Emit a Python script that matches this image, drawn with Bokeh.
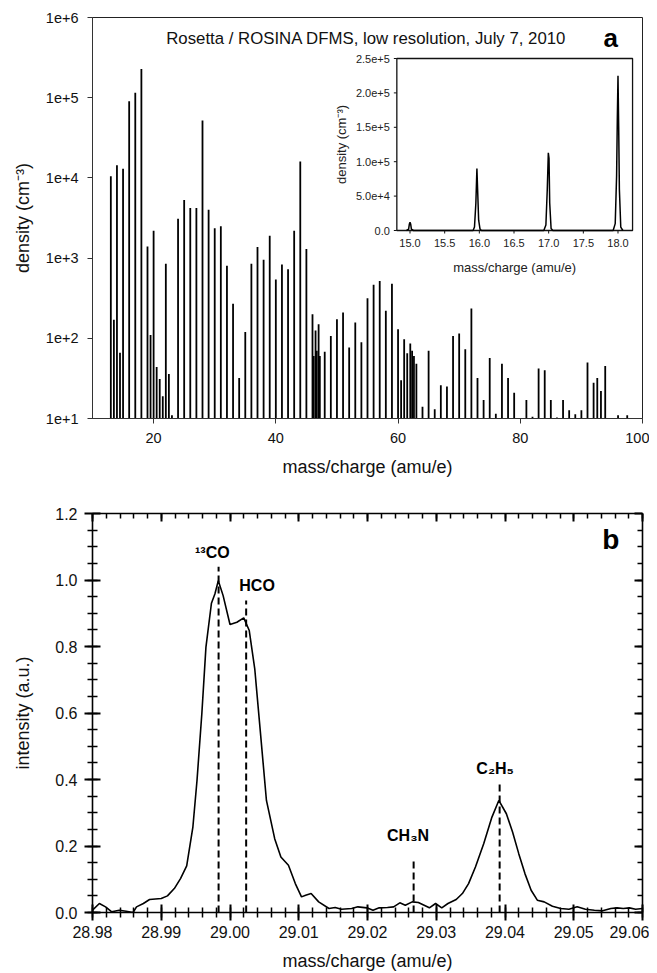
import math
from bokeh.plotting import figure
from bokeh.models import Range1d, FixedTicker, CustomJSTickFormatter, LinearAxis, LinearScale
from bokeh.layouts import column
from bokeh.embed import file_html
from bokeh.resources import INLINE
from bokeh.core.properties import value

FONT = "Liberation Sans"

# ---------------- panel a : low resolution spectrum ----------------
masses = [13, 13.5, 14, 14.5, 15, 16, 17, 18, 19, 19.5, 20, 20.5, 21, 21.5, 22, 22.5, 23,
          24, 25, 26, 27, 28, 29, 30, 31, 32, 33, 34, 35, 36, 37, 38, 39, 40, 41, 42, 43,
          44, 45, 46, 46.2, 46.5, 46.7, 47, 47.2, 48, 49, 50, 51, 52, 53, 54, 55, 56, 57,
          58, 59, 60, 60.5, 61, 61.5, 62, 62.3, 62.6, 63, 64, 65, 66, 67, 68, 69, 70, 71,
          72, 73, 74, 75, 76, 77, 78, 79, 81, 82, 83, 84, 85, 86, 87, 88, 89, 90, 91, 92,
          92.6, 93.2, 93.9, 96, 97.5]
densities = [1.05e4, 170, 1.44e4, 66, 1.3e4, 9.0e4, 1.15e5, 2.28e5, 1400, 110, 2200, 44, 31, 19, 850, 36, 11,
             3100, 5300, 4200, 4200, 5.2e4, 4000, 2350, 2500, 800, 270, 32, 120, 850, 1380, 955, 1900, 540, 830, 725, 2200,
             1.6e4, 1300, 200, 60, 125, 70, 150, 60, 68, 107, 173, 210, 77, 157, 89, 315, 465, 520,
             220, 480, 130, 30, 97, 65, 86, 70, 60, 48, 14, 70, 13, 26, 25, 107, 115, 73,
             235, 32, 17, 57, 11.5, 48, 32, 21, 17, 10.5, 42, 40, 17, 10.3, 17, 12.7, 11.3, 12.7, 50, 28,
             32, 22, 45, 11, 11]
a_x_ticks = [20, 40, 60, 80, 100]
a_x_labels = ["20", "40", "60", "80", "100"]
a_y_ticks = [1e1, 1e2, 1e3, 1e4, 1e5, 1e6]
a_y_labels = ["1e+1", "1e+2", "1e+3", "1e+4", "1e+5", "1e+6"]
a_title = "Rosetta / ROSINA DFMS, low resolution, July 7, 2010"

# inset (linear scale, m/z 15-18)
inset_mass = [14.95, 14.98, 14.99, 15.0, 15.01, 15.02, 15.05,
              15.91, 15.93, 15.95, 15.965, 15.975, 15.99, 16.01, 16.03,
              16.93, 16.96, 16.98, 16.995, 17.005, 17.015, 17.035, 17.06,
              17.93, 17.96, 17.98, 17.99, 18.0, 18.01, 18.02, 18.04, 18.07]
inset_density = [0, 2000, 9000, 12000, 9000, 2000, 0,
                 0, 5000, 40000, 90000, 60000, 15000, 2000, 0,
                 0, 8000, 60000, 113000, 105000, 40000, 3000, 0,
                 0, 10000, 80000, 160000, 225000, 150000, 60000, 5000, 0]
inset_x_ticks = [15.0, 15.5, 16.0, 16.5, 17.0, 17.5, 18.0]
inset_x_labels = ["15.0", "15.5", "16.0", "16.5", "17.0", "17.5", "18.0"]
inset_y_ticks = [0, 5e4, 1e5, 1.5e5, 2e5, 2.5e5]
inset_y_labels = ["0.0", "5.0e+4", "1.0e+5", "1.5e+5", "2.0e+5", "2.5e+5"]
inset_xlim = (14.81, 18.21)
inset_ylim = (0, 2.5e5)

# ---------------- panel b : high resolution, m/z 29 ----------------
b_mass = [28.980, 28.981, 28.9819, 28.9828, 28.9839, 28.9849, 28.9859, 28.9864, 28.9874, 28.9883,
          28.9900, 28.9909, 28.9919, 28.9928, 28.9937, 28.9946, 28.9952, 28.9959, 28.9965, 28.9973,
          28.9978, 28.9983, 28.9990, 29.0000, 29.0010, 29.0020, 29.0028, 29.0036, 29.0044, 29.0053,
          29.0065, 29.0074, 29.0085, 29.0095, 29.0104, 29.0110, 29.0118, 29.0129, 29.0144, 29.0153,
          29.0162, 29.0177, 29.0186, 29.0199, 29.0208, 29.0217, 29.0229, 29.0238, 29.0247, 29.0255,
          29.0265, 29.0274, 29.0290, 29.0299, 29.0308, 29.0317, 29.0329, 29.0338, 29.0347, 29.0357,
          29.0369, 29.0381, 29.0391, 29.0402, 29.0411, 29.0420, 29.0429, 29.0438, 29.0447, 29.0457,
          29.0469, 29.0481, 29.0493, 29.0505, 29.0517, 29.0530, 29.0542, 29.0554, 29.0563, 29.0572,
          29.0581, 29.0590, 29.0600]
b_intensity = [0.007, 0.027, 0.017, 0.002, 0.007, 0.004, 0.0, 0.017, 0.027, 0.039,
               0.042, 0.050, 0.072, 0.102, 0.140, 0.257, 0.397, 0.597, 0.798, 0.930,
               0.958, 0.998, 0.953, 0.866, 0.873, 0.886, 0.848, 0.733, 0.547, 0.337,
               0.222, 0.167, 0.142, 0.087, 0.047, 0.052, 0.057, 0.032, 0.012, 0.015,
               0.010, 0.012, 0.017, 0.014, 0.007, 0.014, 0.015, 0.017, 0.029, 0.022,
               0.032, 0.030, 0.014, 0.027, 0.014, 0.027, 0.039, 0.057, 0.087, 0.137,
               0.207, 0.287, 0.337, 0.297, 0.242, 0.177, 0.117, 0.067, 0.037, 0.032,
               0.019, 0.012, 0.010, 0.017, 0.010, 0.007, 0.005, 0.012, 0.014, 0.012,
               0.014, 0.010, 0.012]
species = ["\u00b9\u00b3CO", "HCO", "CH\u2083N", "C\u2082H\u2085"]
species_mass = [28.99834, 29.00235, 29.02671, 29.03922]
species_top = [1.04, 0.938, 0.155, 0.396]
species_label_x = [28.99743, 29.00394, 29.0259, 29.03856]
species_label_y = [1.084, 0.984, 0.231, 0.434]
b_x_ticks = [28.98, 28.99, 29.00, 29.01, 29.02, 29.03, 29.04, 29.05, 29.06]
b_x_labels = ["28.98", "28.99", "29.00", "29.01", "29.02", "29.03", "29.04", "29.05", "29.06"]
b_x_minor = [28.98 + 0.002 * i for i in range(41)]
b_y_ticks = [0.0, 0.2, 0.4, 0.6, 0.8, 1.0, 1.2]
b_y_labels = ["0.0", "0.2", "0.4", "0.6", "0.8", "1.0", "1.2"]
b_y_minor = [0.05 * i for i in range(25)]


def label_fmt(tv, tl):
    return CustomJSTickFormatter(args=dict(tv=tv, tl=tl), code="""
        let best = -1, bd = Infinity;
        for (let i = 0; i < tv.length; i++) {
            const d = Math.abs(tv[i] - tick);
            if (d < bd) { bd = d; best = i; }
        }
        return (best >= 0 && bd <= 1e-6 * Math.max(1, Math.abs(tick))) ? tl[best] : "";
    """)


# ---------------- figure a ----------------
W = 649
# frame geometry (page pixels) used to place the inset ranges
FL, FR, FT, FB = 89, 642, 17, 418
IL, IR, IT, IB = 395, 632, 58, 230

p1 = figure(width=W, height=490, x_range=Range1d(10, 100), y_range=Range1d(10, 1e6),
            y_axis_type="log", output_backend="svg", toolbar_location=None,
            min_border_left=89, min_border_right=7, min_border_top=17, min_border_bottom=72)
p1.grid.visible = False
p1.outline_line_color = "#222222"
p1.outline_line_width = 1
p1.background_fill_color = "white"
p1.border_fill_color = "white"

xa1 = p1.below[0]
ya1 = p1.left[0]
for ax in (xa1, ya1):
    ax.axis_line_color = "#333333"
    ax.major_tick_line_color = "#333333"
    ax.major_tick_out = 5
    ax.major_tick_in = 0
    ax.minor_tick_line_color = None
    ax.major_label_text_font = FONT
    ax.major_label_text_font_size = "14.5px"
    ax.major_label_text_color = "#111111"
    ax.axis_label_text_font = FONT
    ax.axis_label_text_font_size = "18px"
    ax.axis_label_text_font_style = "normal"
    ax.axis_label_text_color = "#111111"

xa1.ticker = FixedTicker(ticks=a_x_ticks)
xa1.formatter = label_fmt(a_x_ticks, a_x_labels)
xa1.major_label_standoff = 9
xa1.axis_label = "mass/charge (amu/e)"
xa1.axis_label_standoff = 11
ya1.ticker = FixedTicker(ticks=a_y_ticks)
ya1.formatter = label_fmt(a_y_ticks, a_y_labels)
ya1.major_label_standoff = 9
ya1.axis_label = "density (cm\u207b\u00b3)"
ya1.axis_label_standoff = 10

p1.segment(x0=masses, y0=[1] * len(masses), x1=masses, y1=densities,
           line_color="black", line_width=1.8)

p1.text(x=[54.8], y=[5.5e5], text=[a_title], text_align="center", text_baseline="middle",
        text_font=value(FONT), text_font_size="16.8px", text_color="#111111")
p1.text(x=[94.8], y=[5.6e5], text=["a"], text_align="center", text_baseline="middle",
        text_font=value(FONT), text_font_size="26px", text_font_style="bold", text_color="black")

# inset mapped with its own linear ranges
kx = (inset_xlim[1] - inset_xlim[0]) / (IR - IL)
ky = (inset_ylim[1] - inset_ylim[0]) / (IB - IT)
p1.extra_x_ranges = {"inset": Range1d(inset_xlim[0] - (IL - FL) * kx, inset_xlim[1] + (FR - IR) * kx)}
p1.extra_y_ranges = {"inset": Range1d(inset_ylim[0] - (FB - IB) * ky, inset_ylim[1] + (IT - FT) * ky)}
p1.extra_x_scales = {"inset": LinearScale()}
p1.extra_y_scales = {"inset": LinearScale()}
ins = dict(x_range_name="inset", y_range_name="inset")

p1.quad(left=[inset_xlim[0]], right=[inset_xlim[1]], bottom=[inset_ylim[0]], top=[inset_ylim[1]],
        fill_color="white", line_color="#111111", line_width=1.3, **ins)
p1.line(x=inset_mass, y=inset_density, line_color="black", line_width=1.5, **ins)
nx, ny = len(inset_x_ticks), len(inset_y_ticks)
p1.segment(x0=inset_x_ticks, y0=[0] * nx, x1=inset_x_ticks, y1=[-3 * ky] * nx,
           line_color="#111111", line_width=1, **ins)
p1.segment(x0=[inset_xlim[0]] * ny, y0=inset_y_ticks, x1=[inset_xlim[0] - 3 * kx] * ny, y1=inset_y_ticks,
           line_color="#111111", line_width=1, **ins)
p1.text(x=inset_x_ticks, y=[0] * nx, text=inset_x_labels, y_offset=8, text_align="center",
        text_baseline="top", text_font=value(FONT), text_font_size="11px", text_color="#222222", **ins)
p1.text(x=[inset_xlim[0]] * ny, y=inset_y_ticks, text=inset_y_labels, x_offset=-7, text_align="right",
        text_baseline="middle", text_font=value(FONT), text_font_size="11px", text_color="#222222", **ins)
p1.text(x=[(inset_xlim[0] + inset_xlim[1]) / 2], y=[0], text=["mass/charge (amu/e)"], y_offset=37,
        text_align="center", text_baseline="middle", text_font=value(FONT), text_font_size="13px",
        text_color="#222222", **ins)
p1.text(x=[inset_xlim[0]], y=[(inset_ylim[0] + inset_ylim[1]) / 2], text=["density (cm\u207b\u00b3)"],
        x_offset=-55, angle=math.pi / 2, text_align="center", text_baseline="middle",
        text_font=value(FONT), text_font_size="13px", text_color="#222222", **ins)

# ---------------- figure b ----------------
p2 = figure(width=W, height=483, x_range=Range1d(28.98, 29.06), y_range=Range1d(0, 1.2),
            output_backend="svg", toolbar_location=None,
            min_border_left=92, min_border_right=5, min_border_top=23, min_border_bottom=61)
p2.grid.visible = False
p2.outline_line_color = None
p2.background_fill_color = "white"
p2.border_fill_color = "white"

xt = FixedTicker(ticks=b_x_ticks, minor_ticks=b_x_minor)
yt = FixedTicker(ticks=b_y_ticks, minor_ticks=b_y_minor)
bx = p2.below[0]
ly = p2.left[0]
bx.ticker = xt
bx.formatter = label_fmt(b_x_ticks, b_x_labels)
ly.ticker = yt
ly.formatter = label_fmt(b_y_ticks, b_y_labels)
bx.axis_label = "mass/charge (amu/e)"
ly.axis_label = "intensity (a.u.)"

top_ax = LinearAxis(ticker=xt, formatter=CustomJSTickFormatter(code="return '';"))
right_ax = LinearAxis(ticker=yt, formatter=CustomJSTickFormatter(code="return '';"))
p2.add_layout(top_ax, "above")
p2.add_layout(right_ax, "right")

for ax in (bx, ly):
    ax.major_tick_in = 8
    ax.major_tick_out = 8
    ax.minor_tick_in = 5
    ax.minor_tick_out = 5
    ax.major_label_text_font = FONT
    ax.major_label_text_font_size = "16px"
    ax.major_label_text_color = "#111111"
    ax.axis_label_text_font = FONT
    ax.axis_label_text_font_size = "18px"
    ax.axis_label_text_font_style = "normal"
    ax.axis_label_text_color = "#111111"
bx.major_label_standoff = 5
bx.axis_label_standoff = 10
ly.major_label_standoff = 7
ly.axis_label_standoff = 19
for ax in (top_ax, right_ax):
    ax.major_tick_in = 8
    ax.major_tick_out = 0
    ax.minor_tick_in = 5
    ax.minor_tick_out = 0
    ax.major_label_standoff = 0
    ax.major_label_text_font_size = "1px"
for ax in (bx, ly, top_ax, right_ax):
    ax.axis_line_color = "black"
    ax.axis_line_width = 1.6
    ax.major_tick_line_color = "black"
    ax.major_tick_line_width = 2
    ax.minor_tick_line_color = "black"
    ax.minor_tick_line_width = 1.5

ns = len(species_mass)
p2.segment(x0=species_mass, y0=[0] * ns, x1=species_mass, y1=species_top,
           line_color="black", line_width=2, line_dash="7 4")
p2.line(x=b_mass, y=b_intensity, line_color="black", line_width=1.6)
p2.text(x=species_label_x, y=species_label_y, text=species, text_align="center",
        text_baseline="middle", text_font=value(FONT), text_font_size="16px",
        text_font_style="bold", text_color="black")
p2.text(x=[29.0554], y=[1.123], text=["b"], text_align="center", text_baseline="middle",
        text_font=value(FONT), text_font_size="28px", text_font_style="bold", text_color="black")

layout = column(p1, p2, spacing=0)
open("out.html", "w").write(file_html(layout, INLINE))
